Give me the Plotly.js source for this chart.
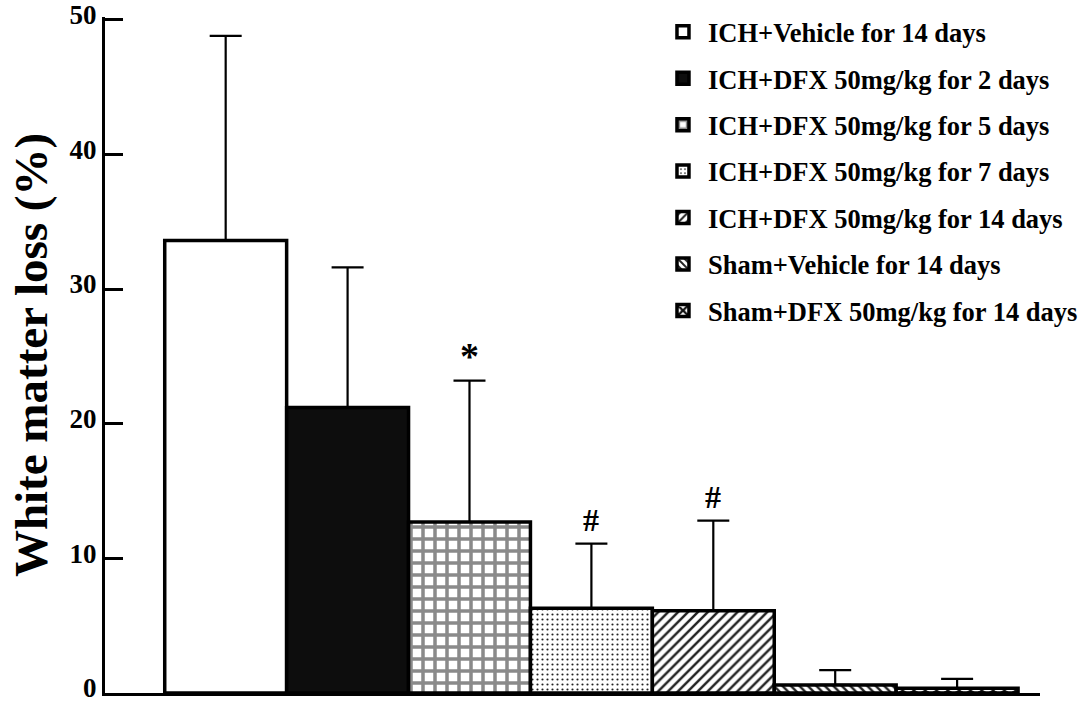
<!DOCTYPE html>
<html>
<head>
<meta charset="utf-8">
<script src="https://cdn.plot.ly/plotly-3.0.1.min.js"></script>
<style>html,body{margin:0;padding:0;background:#fff;}#chart{width:1089px;height:704px;}</style>
</head>
<body>
<div id="chart"></div>
<script>
const groups = [
  "ICH+Vehicle for 14 days",
  "ICH+DFX 50mg/kg for 2 days",
  "ICH+DFX 50mg/kg for 5 days",
  "ICH+DFX 50mg/kg for 7 days",
  "ICH+DFX 50mg/kg for 14 days",
  "Sham+Vehicle for 14 days",
  "Sham+DFX 50mg/kg for 14 days"
];
const meanLoss = [33.6, 21.2, 12.7, 6.3, 6.1, 0.6, 0.35];
const sdLoss = [15.2, 10.4, 10.5, 4.8, 6.7, 1.1, 0.7];
const marks = ["", "", "*", "#", "#", "", ""];
const yTicks = [0, 10, 20, 30, 40, 50];

const fills = [
  {color: "#ffffff", pattern: {shape: ""}},
  {color: "#0d0d0d", pattern: {shape: ""}},
  {color: "#ffffff", pattern: {shape: "+", fgcolor: "#8a8a8a", bgcolor: "#ffffff", size: 12, solidity: 0.5, fillmode: "replace"}},
  {color: "#ffffff", pattern: {shape: ".", fgcolor: "#222", bgcolor: "#ffffff", size: 5, solidity: 0.15, fillmode: "replace"}},
  {color: "#ffffff", pattern: {shape: "/", fgcolor: "#222", bgcolor: "#ffffff", size: 7, solidity: 0.35, fillmode: "replace"}},
  {color: "#ffffff", pattern: {shape: "\\", fgcolor: "#222", bgcolor: "#ffffff", size: 6, solidity: 0.4, fillmode: "replace"}},
  {color: "#ffffff", pattern: {shape: "x", fgcolor: "#111", bgcolor: "#ffffff", size: 8, solidity: 0.6, fillmode: "replace"}}
];

const serif = "Liberation Serif, Times New Roman, serif";

const traces = groups.map((g, i) => ({
  type: "bar",
  name: g,
  legendgroup: "g" + i,
  x: [i],
  y: [meanLoss[i]],
  width: [1],
  marker: {
    color: fills[i].color,
    pattern: fills[i].pattern,
    line: {color: "#000", width: 3.5}
  },
  error_y: {type: "data", array: [sdLoss[i]], symmetric: false, arrayminus: [0], visible: true, color: "#000", thickness: 2.2, width: 16},
  hoverinfo: "skip"
}));

const annotations = [];
marks.forEach((m, i) => {
  if (m) {
    annotations.push({
      x: i, y: meanLoss[i] + sdLoss[i], xref: "x", yref: "y",
      text: m, showarrow: false, yanchor: "bottom", yshift: m === "*" ? 2 : 4,
      font: {family: serif, size: m === "*" ? 38 : 32, color: "#000", weight: "bold"}
    });
  }
});

const layout = {
  width: 1089, height: 704,
  margin: {l: 105, r: 49, t: 17, b: 11, pad: 0, autoexpand: false},
  paper_bgcolor: "#fff", plot_bgcolor: "#fff",
  barmode: "overlay", bargap: 0,
  showlegend: true,
  legend: {
    xref: "container", yref: "container",
    x: 0.6042, y: 0.9886, xanchor: "left", yanchor: "top",
    font: {family: serif, size: 26.5, color: "#000", weight: "bold"},
    tracegroupgap: 9, itemwidth: 40, bgcolor: "rgba(255,255,255,0)",
    traceorder: "grouped"
  },
  xaxis: {
    range: [-0.99, 6.68], showticklabels: false, ticks: "",
    showgrid: false, zeroline: false, showline: true, linecolor: "#000", linewidth: 3
  },
  yaxis: {
    range: [0, 50.2], tickvals: yTicks, ticktext: yTicks.map(String),
    ticks: "inside", ticklen: 18, tickwidth: 3, tickcolor: "#000",
    ticklabelshift: -5, ticklabeloverflow: "allow",
    showline: true, linecolor: "#000", linewidth: 3,
    showgrid: false, zeroline: false,
    tickfont: {family: serif, size: 27, color: "#000", weight: "bold"},
    title: {text: "White matter loss (%)", font: {family: serif, size: 47, color: "#000", weight: "bold"}, standoff: 8}
  },
  annotations: annotations
};

Plotly.newPlot("chart", traces, layout, {staticPlot: true, displayModeBar: false});
</script>
</body>
</html>
